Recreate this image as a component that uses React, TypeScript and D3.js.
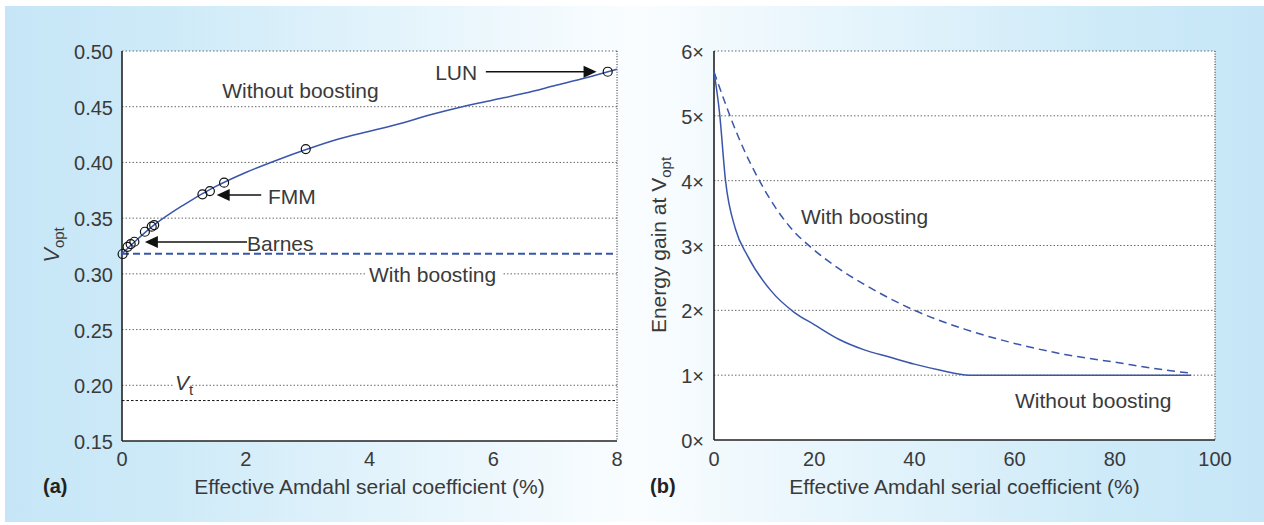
import React from 'react';
import * as d3 from 'd3';

// (a) Vopt vs effective Amdahl serial coefficient (%)
const vCurveX = [0, 0.25, 0.5, 1, 1.5, 2, 2.5, 3, 3.5, 4, 4.5, 5, 5.5, 6, 6.5, 7, 7.5, 8];
const vCurveY = [0.318, 0.331, 0.343, 0.362, 0.378, 0.391, 0.402, 0.412, 0.421, 0.428, 0.435, 0.443, 0.45, 0.456, 0.462, 0.469, 0.476, 0.4836];
const benchX = [0.01, 0.09, 0.14, 0.2, 0.37, 0.48, 0.52, 1.3, 1.42, 1.65, 2.97, 7.85];
const benchY = [0.3178, 0.3243, 0.3267, 0.3288, 0.3378, 0.3423, 0.3438, 0.3714, 0.3743, 0.3818, 0.412, 0.4814];
const boostedV = 0.318;
const thresholdV = 0.1863;
const leftYTicks = [0.15, 0.2, 0.25, 0.3, 0.35, 0.4, 0.45, 0.5];
const leftXTicks = [0, 2, 4, 6, 8];

// arrows: [label, label x, arrow start x, tip x, tip y]
const arrows: [string, number, number, number, number][] = [
  ['LUN', 5.74, 5.88, 7.67, 0.4814],
  ['FMM', 2.36, 2.25, 1.53, 0.3707],
  ['Barnes', 2.02, 2.02, 0.37, 0.3285],
];

// (b) energy gain vs effective Amdahl serial coefficient (%)
const noBoostX = [0, 1.1, 2.3, 4.3, 6.7, 11.4, 16, 20, 25, 30, 35, 40, 45, 51, 60, 70, 80, 95.2];
const noBoostY = [5.68, 5.05, 4.0, 3.25, 2.84, 2.3, 1.97, 1.78, 1.55, 1.39, 1.28, 1.17, 1.08, 1.0, 1.0, 1.0, 1.0, 1.0];
const boostX = [0, 5, 10, 15, 20, 25, 30, 40, 50, 60, 70, 80, 90, 95.2];
const boostY = [5.68, 4.65, 3.87, 3.3, 2.93, 2.64, 2.4, 2.0, 1.71, 1.49, 1.32, 1.2, 1.08, 1.03];
const rightYTicks = [0, 1, 2, 3, 4, 5, 6];
const rightXTicks = [0, 20, 40, 60, 80, 100];

const FONT = 'Liberation Sans, Arial, Helvetica, sans-serif';
const TXT = '#3a3a3a';
const BLUE = '#3a56aa';
const GRID = '#6a6a6a';

const xa = d3.scaleLinear().domain([0, 8]).range([122, 617]);
const ya = d3.scaleLinear().domain([0.15, 0.5]).range([441, 51]);
const xb = d3.scaleLinear().domain([0, 100]).range([714, 1215]);
const yb = d3.scaleLinear().domain([0, 6]).range([440, 51]);

const zip = (xs: number[], ys: number[]) => xs.map((x, i) => [x, ys[i]] as [number, number]);

const App = () => {
  const lineA = d3.line<[number, number]>().x(d => xa(d[0])).y(d => ya(d[1])).curve(d3.curveMonotoneX);
  const lineB = d3.line<[number, number]>().x(d => xb(d[0])).y(d => yb(d[1])).curve(d3.curveMonotoneX);

  return (
    <svg width={1264} height={525} style={{ position: 'absolute', left: 0, top: 0 }} fontFamily={FONT}>
      <defs>
        <linearGradient id="bg" x1="0" x2="1" y1="0" y2="0">
          <stop offset="0%" stopColor="#c6e6f7" />
          <stop offset="12%" stopColor="#cdeaf8" />
          <stop offset="50%" stopColor="#fafdff" />
          <stop offset="88%" stopColor="#cdeaf8" />
          <stop offset="100%" stopColor="#c6e6f7" />
        </linearGradient>
      </defs>
      <rect x={0} y={0} width={1264} height={525} fill="#fff" />
      <rect x={5} y={6} width={1259} height={516} fill="url(#bg)" />

      {/* panel (a) */}
      <rect x={xa(0)} y={ya(0.5)} width={xa(8) - xa(0)} height={ya(0.15) - ya(0.5)} fill="#fff" />
      {leftYTicks.slice(1).map(t => (
        <line key={t} x1={xa(0)} x2={xa(8)} y1={ya(t)} y2={ya(t)} stroke={GRID} strokeDasharray="1.5 2" />
      ))}
      <line x1={xa(8)} x2={xa(8)} y1={ya(0.5)} y2={ya(0.15)} stroke="#222" strokeDasharray="1 1.6" />
      <line x1={xa(0)} x2={xa(0)} y1={ya(0.5)} y2={ya(0.15)} stroke="#222" strokeWidth={1.6} />
      <line x1={xa(0)} x2={xa(8)} y1={ya(0.15)} y2={ya(0.15)} stroke="#222" strokeWidth={1.6} />
      {leftYTicks.map(t => (
        <text key={t} x={113} y={ya(t) + 1} textAnchor="end" dominantBaseline="central" fontSize={20} fill={TXT}>
          {t.toFixed(2)}
        </text>
      ))}
      {leftXTicks.map(t => (
        <text key={t} x={xa(t)} y={459} textAnchor="middle" dominantBaseline="central" fontSize={20} fill={TXT}>
          {t}
        </text>
      ))}
      <text x={xa(4)} y={486} textAnchor="middle" dominantBaseline="central" fontSize={21} fill={TXT}>
        Effective Amdahl serial coefficient (%)
      </text>
      <text x={43} y={486} dominantBaseline="central" fontSize={20} fontWeight="bold" fill="#222">(a)</text>
      <text transform="translate(59,245) rotate(-90)" textAnchor="middle" fontSize={22} fill={TXT}>
        <tspan fontStyle="italic">V</tspan>
        <tspan fontSize={15} dy={5}>opt</tspan>
      </text>

      {/* Vt line and label */}
      <line x1={xa(0)} x2={xa(8)} y1={ya(thresholdV)} y2={ya(thresholdV)} stroke="#111" strokeDasharray="2.5 2" />
      <rect x={173} y={ya(0.2) - 10} width={18} height={20} fill="#fff" />
      <text x={175} y={ya(0.2) + 5} fontSize={21} fill={TXT}>
        <tspan fontStyle="italic">V</tspan>
        <tspan fontSize={15} dy={5}>t</tspan>
      </text>

      {/* with boosting (flat) */}
      <line x1={xa(0)} x2={xa(8)} y1={ya(boostedV)} y2={ya(boostedV)} stroke={BLUE} strokeWidth={2} strokeDasharray="7 4" />
      <rect x={366} y={ya(0.3) - 11} width={136} height={22} fill="#fff" />
      <text x={369} y={ya(0.3) + 1} dominantBaseline="central" fontSize={21} fill={TXT}>With boosting</text>

      {/* without boosting curve */}
      <path d={lineA(zip(vCurveX, vCurveY)) ?? ''} fill="none" stroke={BLUE} strokeWidth={1.5} />
      {benchX.map((x, i) => (
        <circle key={i} cx={xa(x)} cy={ya(benchY[i])} r={4.5} fill="none" stroke="#111" strokeWidth={1.2} />
      ))}
      <text x={xa(1.62)} y={ya(0.465)} dominantBaseline="central" fontSize={21} fill={TXT}>Without boosting</text>

      {arrows.map(([label, lx, sx, tx, ty]) => {
        const dir = tx > sx ? 1 : -1;
        const tipX = xa(tx);
        const tipY = ya(ty);
        return (
          <g key={label}>
            <line x1={xa(sx)} x2={tipX - dir * 10} y1={tipY} y2={tipY} stroke="#111" strokeWidth={1.5} />
            <path d={`M${tipX},${tipY} L${tipX - dir * 13},${tipY - 6} L${tipX - dir * 13},${tipY + 6} Z`} fill="#111" />
            <text x={xa(lx)} y={tipY + 1} textAnchor={dir > 0 ? 'end' : 'start'} dominantBaseline="central" fontSize={21} fill={TXT}>
              {label}
            </text>
          </g>
        );
      })}

      {/* panel (b) */}
      <rect x={xb(0)} y={yb(6)} width={xb(100) - xb(0)} height={yb(0) - yb(6)} fill="#fff" />
      {rightYTicks.slice(1).map(t => (
        <line key={t} x1={xb(0)} x2={xb(100)} y1={yb(t)} y2={yb(t)} stroke={GRID} strokeDasharray="1.5 2" />
      ))}
      <line x1={xb(100)} x2={xb(100)} y1={yb(6)} y2={yb(0)} stroke="#222" strokeDasharray="1 1.6" />
      <line x1={xb(0)} x2={xb(0)} y1={yb(6)} y2={yb(0)} stroke="#222" strokeWidth={1.6} />
      <line x1={xb(0)} x2={xb(100)} y1={yb(0)} y2={yb(0)} stroke="#222" strokeWidth={1.6} />
      {rightYTicks.map(t => (
        <text key={t} x={704} y={yb(t) + 1} textAnchor="end" dominantBaseline="central" fontSize={20} fill={TXT}>
          {`${t}×`}
        </text>
      ))}
      {rightXTicks.map(t => (
        <text key={t} x={xb(t)} y={459} textAnchor="middle" dominantBaseline="central" fontSize={20} fill={TXT}>
          {t}
        </text>
      ))}
      <text x={xb(50)} y={486} textAnchor="middle" dominantBaseline="central" fontSize={21} fill={TXT}>
        Effective Amdahl serial coefficient (%)
      </text>
      <text x={650} y={486} dominantBaseline="central" fontSize={20} fontWeight="bold" fill="#222">(b)</text>
      <text transform="translate(666,245) rotate(-90)" textAnchor="middle" fontSize={21} fill={TXT}>
        Energy gain at V<tspan fontSize={15} dy={5}>opt</tspan>
      </text>

      <path d={lineB(zip(boostX, boostY)) ?? ''} fill="none" stroke={BLUE} strokeWidth={1.5} strokeDasharray="8 5" />
      <path d={lineB(zip(noBoostX, noBoostY)) ?? ''} fill="none" stroke={BLUE} strokeWidth={1.5} />
      <text x={801} y={yb(3.45)} dominantBaseline="central" fontSize={21} fill={TXT}>With boosting</text>
      <text x={1015} y={400} dominantBaseline="central" fontSize={21} fill={TXT}>Without boosting</text>
    </svg>
  );
};

export default App;
